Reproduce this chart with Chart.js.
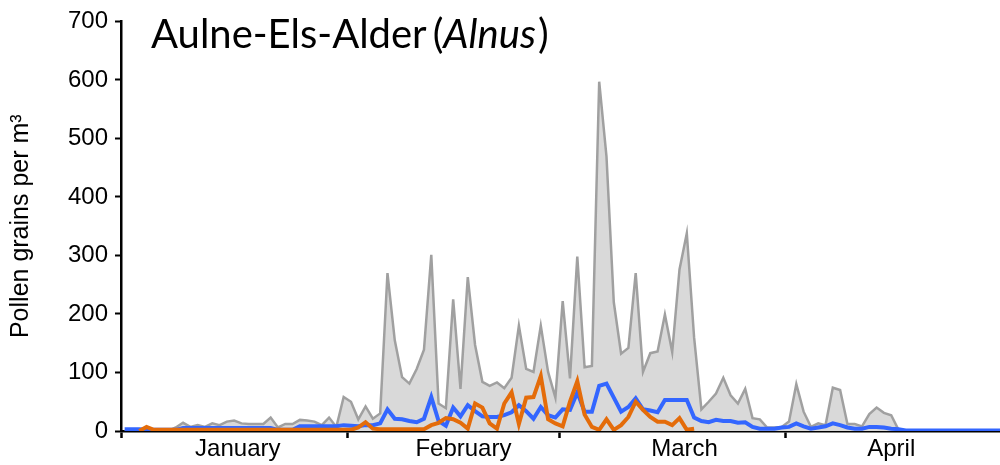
<!DOCTYPE html>
<html>
<head>
<meta charset="utf-8">
<script src="https://cdn.jsdelivr.net/npm/chart.js@4"></script>
<style>
  html, body { margin: 0; padding: 0; background: #fff; }
  #wrap { position: relative; width: 1000px; height: 465px; }
</style>
</head>
<body>
<div id="wrap"><canvas id="pollenChart"></canvas></div>
<script>
// Days Jan 1 .. Apr 30 (leap year), one value per day
const dayCount = 121;

// grey area: season maximum
const maxValues = [
    0, 0, 0, 0, 0, 0, 0, 6, 14, 7, 10, 7, 13, 10, 16, 18, 13, 12, 12, 12,
    23, 6, 12, 12, 19, 18, 16, 10, 23, 7, 58, 50, 20, 42, 21, 30, 270, 155, 92, 81,
    106, 139, 301, 47, 39, 225, 72, 263, 147, 84, 77, 83, 73, 91, 180, 106, 101, 180, 101, 57,
    222, 90, 298, 109, 111, 597, 469, 220, 132, 142, 270, 101, 133, 136, 199, 135, 276, 338, 160, 37,
    50, 64, 91, 61, 47, 72, 22, 20, 6, 6, 7, 16, 80, 33, 7, 13, 10, 74, 70, 12,
    12, 8, 29, 40, 31, 27, 2, 0, 0, 0, 0, 0, 0, 0, 0, 0, 0, 0, 0, 0,
    0
];

// blue line: mean
const meanValues = [
    3, 3, 3, 2, 2, 2, 2, 2, 5, 5, 5, 5, 5, 5, 5, 5, 5, 5, 5, 5,
    5, 2, 2, 2, 8, 8, 8, 8, 8, 8, 10, 9, 8, 10, 10, 13, 37, 21, 20, 17,
    15, 21, 58, 17, 9, 40, 25, 44, 34, 25, 24, 24, 27, 32, 44, 34, 21, 41, 27, 23,
    37, 36, 66, 33, 33, 77, 81, 57, 33, 41, 56, 37, 35, 32, 53, 53, 53, 53, 23, 17,
    15, 19, 17, 17, 14, 15, 7, 4, 4, 4, 6, 7, 13, 8, 4, 6, 8, 13, 10, 6,
    4, 4, 7, 7, 6, 4, 3, 1, 1, 1, 1, 1, 1, 1, 1, 1, 1, 1, 1, 1,
    1
];

// orange line: current year (stops mid March)
const currentValues = [
    null, null, 0, 7, 2, 2, 2, 2, 2, 2, 2, 2, 2, 2, 2, 2, 2, 2, 2, 2,
    2, 2, 2, 2, 2, 2, 2, 2, 2, 2, 2, 2, 6, 15, 4, 3, 3, 3, 3, 3,
    3, 3, 10, 14, 22, 20, 14, 4, 47, 40, 13, 4, 47, 66, 12, 57, 58, 94, 20, 13,
    8, 50, 85, 28, 7, 2, 20, 2, 10, 24, 50, 36, 24, 16, 16, 10, 22, 2, 4
];

const monthNames = ['January', 'February', 'March', 'April'];
const monthLabelAt = [15.5, 46.4, 76.7, 105.0];
const monthEdges = [-0.5, 30.5, 59.5, 90.5];
const yTicks = [0, 100, 200, 300, 400, 500, 600, 700];

const toPoints = arr => arr.map((v, i) => ({ x: i, y: v }));

// Title with the latin name in italics
const titlePlugin = {
    id: 'speciesTitle',
    afterDraw(chart) {
        const ctx = chart.ctx;
        const parts = [
            { t: 'Aulne-Els-Alder', f: '40px Lato', gap: 6 },
            { t: '(', f: '40px Lato', gap: 0 },
            { t: 'Alnus', f: 'italic 40px Lato', gap: 2 },
            { t: ')', f: '40px Lato', gap: 0 }
        ];
        let x = 151;
        ctx.save();
        ctx.fillStyle = '#000';
        ctx.textBaseline = 'alphabetic';
        parts.forEach(p => {
            ctx.font = p.f;
            ctx.fillText(p.t, x, 48);
            x += ctx.measureText(p.t).width + p.gap;
        });
        ctx.restore();
    }
};

const axisFont = { family: '"Liberation Sans", Arial, sans-serif', size: 24 };

new Chart(document.getElementById('pollenChart'), {
    type: 'line',
    data: {
        datasets: [
            {
                label: 'Current',
                data: toPoints(currentValues),
                borderColor: '#E46C0A',
                borderWidth: 4,
                pointRadius: 0,
                fill: false,
                tension: 0,
                spanGaps: false,
                order: 1
            },
            {
                label: 'Mean',
                data: toPoints(meanValues),
                borderColor: '#3366FF',
                borderWidth: 4,
                pointRadius: 0,
                fill: false,
                tension: 0,
                order: 2
            },
            {
                label: 'Max',
                data: toPoints(maxValues),
                borderColor: '#A0A0A0',
                backgroundColor: '#D9D9D9',
                borderWidth: 2.5,
                pointRadius: 0,
                fill: 'origin',
                tension: 0,
                order: 3
            }
        ]
    },
    options: {
        responsive: true,
        maintainAspectRatio: false,
        animation: false,
        layout: { padding: { top: 19, right: 0, left: 0, bottom: 0 } },
        plugins: {
            legend: { display: false },
            tooltip: { enabled: false }
        },
        scales: {
            x: {
                type: 'linear',
                min: -0.5,
                max: 119.9,
                afterBuildTicks: scale => {
                    const vals = monthEdges.concat(monthLabelAt).sort((a, b) => a - b);
                    scale.ticks = vals.map(v => ({ value: v }));
                },
                afterFit: scale => { scale.height = 34; },
                border: { display: true, color: '#000', width: 2.5 },
                grid: {
                    drawOnChartArea: false,
                    drawTicks: true,
                    tickLength: 7,
                    tickWidth: 2.5,
                    tickColor: c => (c.tick && monthEdges.includes(c.tick.value)) ? '#000' : 'rgba(0,0,0,0)'
                },
                ticks: {
                    autoSkip: false,
                    maxRotation: 0,
                    padding: -3,
                    color: '#000',
                    font: axisFont,
                    callback: v => {
                        const k = monthLabelAt.indexOf(v);
                        return k >= 0 ? monthNames[k] : '';
                    }
                }
            },
            y: {
                min: 0,
                max: 700,
                afterBuildTicks: scale => {
                    scale.ticks = yTicks.map(v => ({ value: v }));
                },
                afterFit: scale => { scale.width = 121; },
                border: { display: true, color: '#000', width: 2.5 },
                grid: {
                    drawOnChartArea: false,
                    tickLength: 6,
                    tickWidth: 2,
                    tickColor: '#000'
                },
                ticks: {
                    padding: 7,
                    color: '#000',
                    font: axisFont
                },
                title: {
                    display: true,
                    text: 'Pollen grains per m³',
                    color: '#000',
                    font: { family: '"Liberation Sans", Arial, sans-serif', size: 25 },
                    padding: { top: 6, bottom: 0 }
                }
            }
        }
    },
    plugins: [titlePlugin]
});
</script>
</body>
</html>
